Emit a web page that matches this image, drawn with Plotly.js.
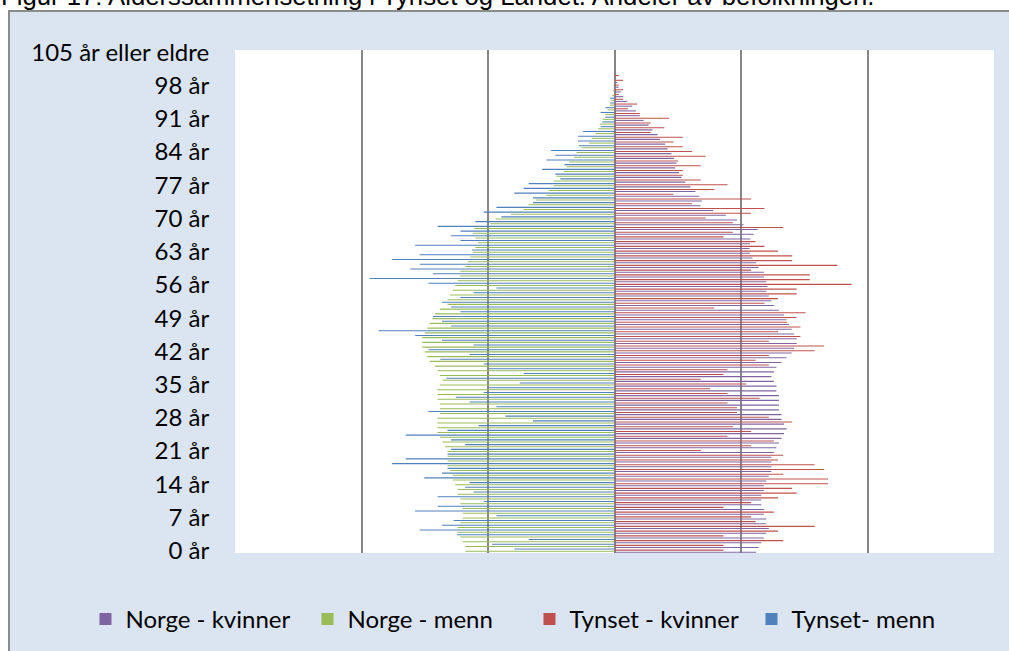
<!DOCTYPE html>
<html>
<head>
<meta charset="utf-8">
<script src="https://cdn.plot.ly/plotly-3.0.1.min.js"></script>
<style>
  html, body { margin:0; padding:0; background:#ffffff; width:1009px; height:651px; overflow:hidden; }
  #title { position:absolute; left:1px; top:-16px; font-family:"Liberation Sans", Arial, sans-serif; font-size:25.7px; line-height:25px; color:#000; white-space:nowrap; }
  #frame { position:absolute; left:8px; top:10px; width:1010px; height:650px; background:#DBE5F1; border-left:2px solid #8c8c8c; border-top:2px solid #8c8c8c; }
  #chart { position:absolute; left:0; top:0; width:1001px; height:641px; }
</style>
</head>
<body>
<div id="title">Figur 17: Alderssammensetning i Tynset og Landet. Andeler av befolkningen.</div>
<div id="frame"><div id="chart"></div></div>
<script>
// Age categories 0..104 år, plus "105 år eller eldre"
const ages = [];
for (let a = 0; a <= 104; a++) ages.push(a + " år");
ages.push("105 år eller eldre");

// Tick labels (every 7th age)
const tickAges = ["0 år","7 år","14 år","21 år","28 år","35 år","42 år","49 år","56 år","63 år","70 år","77 år","84 år","91 år","98 år","105 år eller eldre"];

// Percent of population, ages 0..105
const norgeKvinner = [
0.56,0.57,0.58,0.59,0.60,0.61,0.60,0.60,0.59,0.59,
0.58,0.58,0.58,0.59,0.59,0.60,0.61,0.62,0.62,0.62,
0.62,0.63,0.64,0.65,0.66,0.67,0.68,0.67,0.66,0.66,
0.65,0.65,0.65,0.65,0.64,0.64,0.63,0.62,0.63,0.64,
0.66,0.68,0.70,0.71,0.72,0.72,0.71,0.70,0.69,0.68,
0.67,0.65,0.63,0.62,0.61,0.60,0.605,0.60,0.59,0.59,
0.57,0.56,0.545,0.535,0.534,0.535,0.537,0.55,0.566,0.51,
0.485,0.44,0.39,0.34,0.345,0.335,0.32,0.30,0.28,0.265,
0.255,0.24,0.245,0.235,0.225,0.21,0.20,0.18,0.17,0.15,
0.135,0.115,0.10,0.085,0.07,0.05,0.035,0.024,0.016,0.011,
0.006,0.003,0.002,0.001,0.0,0.0];

const norgeMenn = [
0.59,0.59,0.60,0.61,0.62,0.62,0.61,0.60,0.60,0.60,
0.61,0.61,0.62,0.62,0.63,0.64,0.64,0.65,0.66,0.66,
0.66,0.66,0.67,0.68,0.69,0.70,0.70,0.70,0.70,0.69,
0.69,0.69,0.70,0.70,0.70,0.69,0.68,0.69,0.70,0.71,
0.73,0.74,0.75,0.76,0.76,0.76,0.75,0.74,0.73,0.72,
0.71,0.69,0.66,0.66,0.65,0.64,0.63,0.62,0.61,0.61,
0.59,0.58,0.57,0.56,0.55,0.54,0.55,0.56,0.555,0.49,
0.47,0.41,0.36,0.34,0.31,0.27,0.26,0.24,0.24,0.23,
0.20,0.19,0.18,0.16,0.15,0.13,0.10,0.09,0.075,0.065,
0.058,0.047,0.036,0.027,0.018,0.013,0.009,0.006,0.004,0.002,
0.001,0.0,0.0,0.0,0.0,0.0];

const tynsetKvinner = [
0.431,0.431,0.667,0.431,0.646,0.791,0.558,0.540,0.630,0.431,
0.540,0.646,0.720,0.702,0.844,0.844,0.667,0.828,0.791,0.646,
0.667,0.341,0.540,0.630,0.447,0.540,0.468,0.702,0.610,0.484,
0.484,0.447,0.574,0.447,0.378,0.521,0.341,0.431,0.447,0.610,
0.558,0.610,0.791,0.828,0.610,0.735,0.646,0.735,0.683,0.720,
0.755,0.394,0.593,0.646,0.720,0.720,0.937,0.772,0.772,0.540,
0.881,0.702,0.702,0.646,0.593,0.557,0.431,0.468,0.667,0.468,
0.360,0.540,0.593,0.306,0.540,0.233,0.394,0.447,0.341,0.270,
0.270,0.341,0.251,0.360,0.306,0.270,0.233,0.270,0.143,0.197,
0.143,0.216,0.100,0.053,0.090,0.034,0.017,0.034,0.017,0.034,
0.017,0.0,0.0,0.0,0.0,0.0];

const tynsetMenn = [
0.396,0.484,0.339,0.623,0.770,0.682,0.636,0.467,0.788,0.699,
0.517,0.699,0.557,0.590,0.573,0.752,0.682,0.660,0.879,0.825,
0.660,0.646,0.590,0.646,0.825,0.660,0.537,0.322,0.431,0.735,
0.467,0.573,0.627,0.517,0.497,0.375,0.665,0.359,0.497,0.517,
0.689,0.573,0.735,0.557,0.682,0.788,0.933,0.646,0.682,0.718,
0.609,0.646,0.682,0.609,0.557,0.467,0.735,0.968,0.718,0.807,
0.770,0.879,0.770,0.564,0.788,0.609,0.646,0.609,0.699,0.550,
0.447,0.517,0.467,0.322,0.322,0.396,0.359,0.339,0.214,0.234,
0.286,0.198,0.269,0.234,0.251,0.141,0.144,0.144,0.124,0.055,
0.048,0.036,0.055,0.036,0.018,0.018,0.0,0.0,0.0,0.0,
0.0,0.0,0.0,0.0,0.0,0.0];

const neg = arr => arr.map(v => -v);

const traces = [
  {name:"Norge - kvinner", x:norgeKvinner, y:ages, marker:{color:"#8064A2"}},
  {name:"Norge - menn", x:neg(norgeMenn), y:ages, marker:{color:"#9BBB59"}},
  {name:"Tynset - kvinner", x:tynsetKvinner, y:ages, marker:{color:"#C0504D"}},
  {name:"Tynset- menn", x:neg(tynsetMenn), y:ages, marker:{color:"#4F81BD"}}
].map(t => Object.assign({type:"bar", orientation:"h", hoverinfo:"x+y+name"}, t));

const layout = {
  width:1001, height:641,
  margin:{l:225, r:17, t:38, b:99, pad:0},
  paper_bgcolor:"rgba(0,0,0,0)",
  plot_bgcolor:"#ffffff",
  barmode:"group", bargap:0.1, bargroupgap:0,
  font:{family:"Lato, 'Open Sans', sans-serif", size:24, color:"#000"},
  xaxis:{range:[-1.5,1.5], dtick:0.5, tick0:0, showticklabels:false, ticks:"",
         showgrid:true, gridcolor:"#868686", gridwidth:2,
         zeroline:true, zerolinecolor:"#868686", zerolinewidth:2, showline:false, fixedrange:true},
  yaxis:{type:"category", categoryorder:"array", categoryarray:ages, range:[-0.5,105.5],
         tickmode:"array", tickvals:tickAges, ticktext:tickAges,
         ticks:"outside", ticklen:20, tickcolor:"rgba(0,0,0,0)",
         showgrid:false, zeroline:false, showline:false, tickfont:{size:24}, fixedrange:true},
  showlegend:true,
  legend:{orientation:"h", x:-0.197, xanchor:"left", y:-0.13, yanchor:"middle",
          font:{size:24}, bgcolor:"rgba(0,0,0,0)", traceorder:"normal",
          entrywidth:177, entrywidthmode:"pixels", itemclick:false, itemdoubleclick:false}
};

Plotly.newPlot("chart", traces, layout, {displayModeBar:false, staticPlot:true});
</script>
</body>
</html>
